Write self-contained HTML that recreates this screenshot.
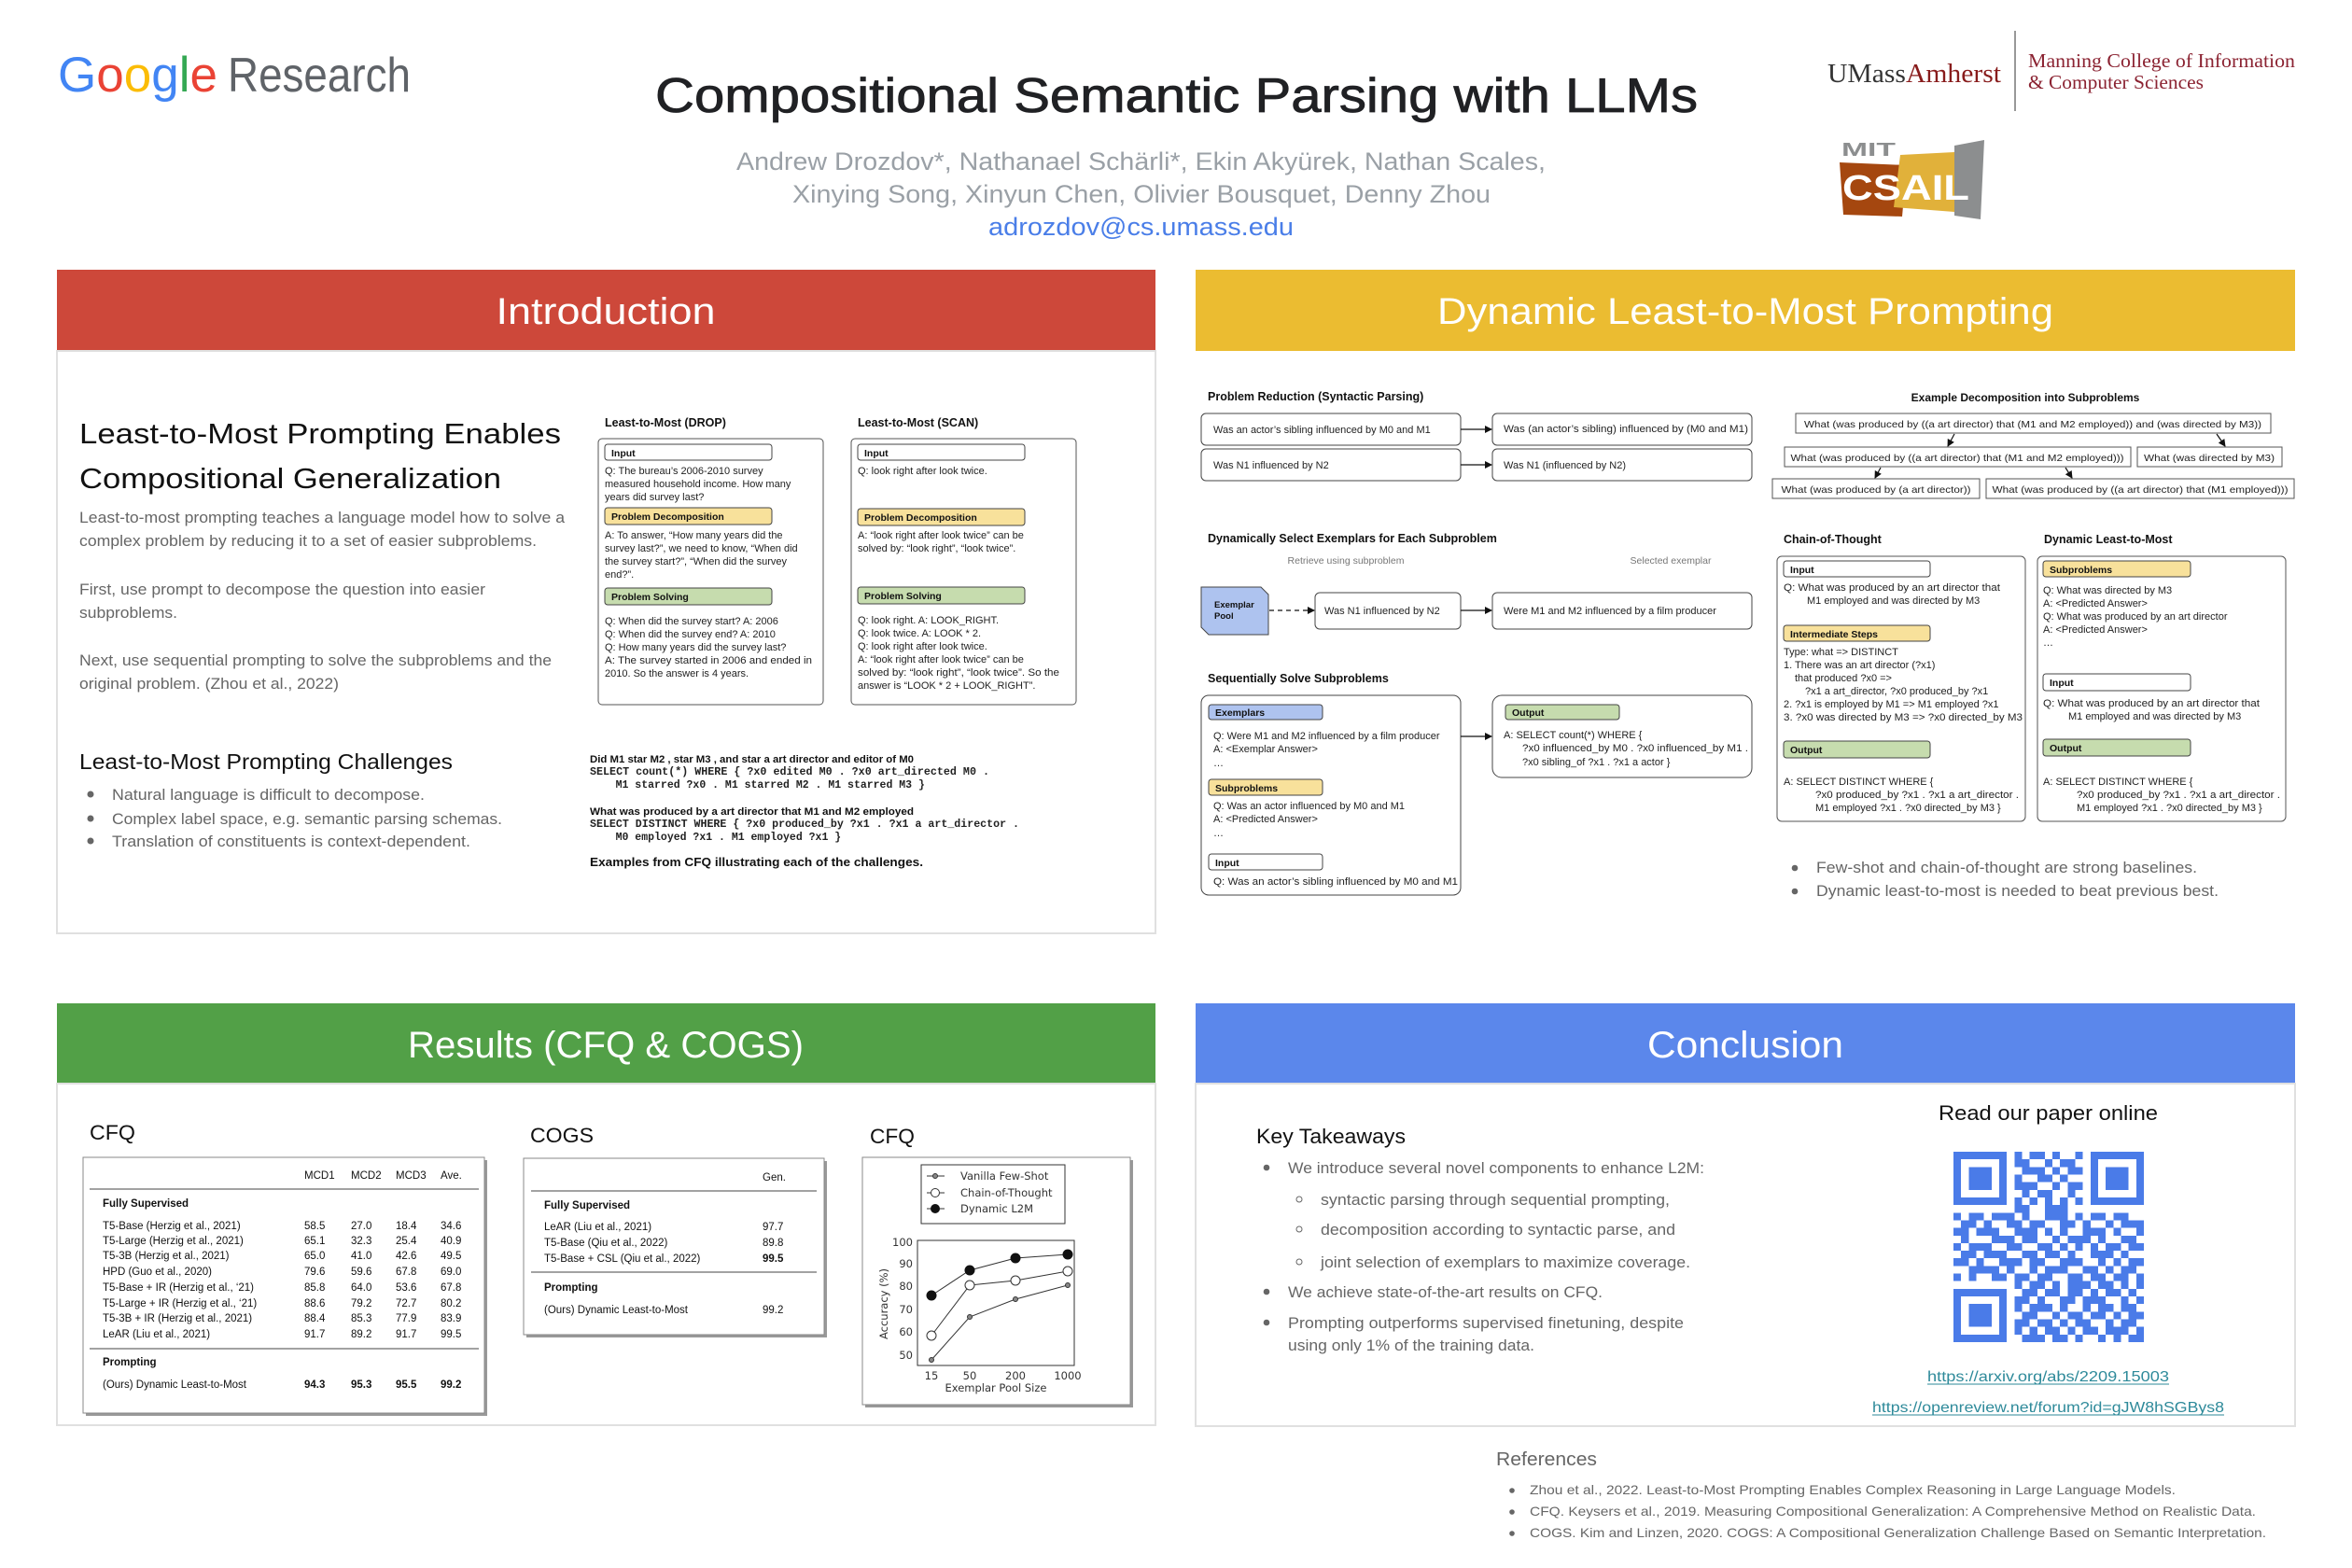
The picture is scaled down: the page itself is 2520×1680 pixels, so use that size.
<!DOCTYPE html>
<html><head><meta charset="utf-8"><style>
html,body{margin:0;padding:0;background:#fff;}
svg{display:block;}
text{font-family:"Liberation Sans",Arial,sans-serif;}
.m{font-family:"Liberation Mono",monospace;font-weight:bold;font-size:11.5px;fill:#222;white-space:pre;}
.s{font-size:11px;fill:#222;}
.b{font-weight:bold;}
.g{fill:#666;}
</style></head><body>
<svg width="2520" height="1680" viewBox="0 0 2520 1680" xmlns="http://www.w3.org/2000/svg">
<defs>
<marker id="ar" markerWidth="8" markerHeight="8" refX="7" refY="4" orient="auto" markerUnits="userSpaceOnUse"><path d="M0,0L8,4L0,8z" fill="#111"/></marker>
</defs>
<rect width="2520" height="1680" fill="#fff"/>

<!-- HEADER -->
<text x="62" y="98" font-size="53"><tspan fill="#4285F4">G</tspan><tspan fill="#EA4335">o</tspan><tspan fill="#FBBC05">o</tspan><tspan fill="#4285F4">g</tspan><tspan fill="#34A853">l</tspan><tspan fill="#EA4335">e</tspan></text>
<text x="244" y="98" font-size="52" fill="#5f6368" textLength="196" lengthAdjust="spacingAndGlyphs">Research</text>

<text x="702" y="120" font-size="52" fill="#202124" stroke="#202124" stroke-width="0.8" textLength="1117" lengthAdjust="spacingAndGlyphs">Compositional Semantic Parsing with LLMs</text>
<text x="789" y="182" font-size="27" fill="#9aa0a6" textLength="867" lengthAdjust="spacingAndGlyphs">Andrew Drozdov*, Nathanael Schärli*, Ekin Akyürek, Nathan Scales,</text>
<text x="849" y="217" font-size="27" fill="#9aa0a6" textLength="748" lengthAdjust="spacingAndGlyphs">Xinying Song, Xinyun Chen, Olivier Bousquet, Denny Zhou</text>
<text x="1059" y="252" font-size="27" fill="#4a7ee8" textLength="327" lengthAdjust="spacingAndGlyphs">adrozdov@cs.umass.edu</text>

<text x="1958" y="88" font-size="29" font-family="Liberation Serif,serif" style="font-family:'Liberation Serif',serif" textLength="186" lengthAdjust="spacingAndGlyphs"><tspan fill="#333">UMass</tspan><tspan fill="#881c1c">Amherst</tspan></text>
<line x1="2159" y1="33" x2="2159" y2="119" stroke="#777" stroke-width="1.5"/>
<text x="2173" y="72" font-size="21" fill="#8b2332" style="font-family:'Liberation Serif',serif" textLength="286" lengthAdjust="spacingAndGlyphs">Manning College of Information</text>
<text x="2173" y="95" font-size="21" fill="#8b2332" style="font-family:'Liberation Serif',serif" textLength="188" lengthAdjust="spacingAndGlyphs">&amp; Computer Sciences</text>

<!-- CSAIL logo -->
<polygon points="2094,156 2126,150 2122,235 2094,231" fill="#8c8e8f"/>
<polygon points="1971,174 2043,177 2038,232 1975,230" fill="#a5470f"/>
<polygon points="2036,166 2094,163 2094,227 2029,222" fill="#e1b13a"/>
<text x="1973" y="167" font-size="20" font-weight="bold" fill="#8c8e8f" textLength="58" lengthAdjust="spacingAndGlyphs">MIT</text>
<text x="1974" y="214" font-size="38" font-weight="bold" fill="#fff" textLength="136" lengthAdjust="spacingAndGlyphs">CSAIL</text>

<!-- SECTION HEADERS -->
<rect x="61" y="289" width="1177" height="87" fill="#cd483a"/>
<text x="649" y="347" font-size="40" fill="#fff" text-anchor="middle" textLength="235" lengthAdjust="spacingAndGlyphs">Introduction</text>
<rect x="61" y="376" width="1177" height="624" fill="none" stroke="#e0e0e0" stroke-width="2"/>

<rect x="1281" y="289" width="1178" height="87" fill="#ebbc31"/>
<text x="1870" y="347" font-size="40" fill="#fff" text-anchor="middle" textLength="660" lengthAdjust="spacingAndGlyphs">Dynamic Least-to-Most Prompting</text>

<rect x="61" y="1075" width="1177" height="86" fill="#52a047"/>
<text x="649" y="1133" font-size="40" fill="#fff" text-anchor="middle" textLength="424" lengthAdjust="spacingAndGlyphs">Results (CFQ &amp; COGS)</text>
<rect x="61" y="1161" width="1177" height="366" fill="none" stroke="#e0e0e0" stroke-width="2"/>

<rect x="1281" y="1075" width="1178" height="86" fill="#5b87eb"/>
<text x="1870" y="1133" font-size="40" fill="#fff" text-anchor="middle" textLength="210" lengthAdjust="spacingAndGlyphs">Conclusion</text>
<rect x="1281" y="1161" width="1178" height="367" fill="none" stroke="#e0e0e0" stroke-width="2"/>

<!-- INTRO LEFT -->
<text x="85" y="475" font-size="31" fill="#111" textLength="516" lengthAdjust="spacingAndGlyphs">Least-to-Most Prompting Enables</text>
<text x="85" y="523" font-size="31" fill="#111" textLength="452" lengthAdjust="spacingAndGlyphs">Compositional Generalization</text>
<g font-size="17" fill="#666">
<text x="85" y="560" textLength="520" lengthAdjust="spacingAndGlyphs">Least-to-most prompting teaches a language model how to solve a</text>
<text x="85" y="585" textLength="490" lengthAdjust="spacingAndGlyphs">complex problem by reducing it to a set of easier subproblems.</text>
<text x="85" y="637" textLength="435" lengthAdjust="spacingAndGlyphs">First, use prompt to decompose the question into easier</text>
<text x="85" y="662" textLength="105" lengthAdjust="spacingAndGlyphs">subproblems.</text>
<text x="85" y="713" textLength="506" lengthAdjust="spacingAndGlyphs">Next, use sequential prompting to solve the subproblems and the</text>
<text x="85" y="738" textLength="278" lengthAdjust="spacingAndGlyphs">original problem. (Zhou et al., 2022)</text>
</g>
<text x="85" y="824" font-size="23" fill="#111" textLength="400" lengthAdjust="spacingAndGlyphs">Least-to-Most Prompting Challenges</text>
<g font-size="17" fill="#666">
<circle cx="97" cy="851" r="3.5"/><circle cx="97" cy="877" r="3.5"/><circle cx="97" cy="901" r="3.5"/>
<text x="120" y="857" textLength="335" lengthAdjust="spacingAndGlyphs">Natural language is difficult to decompose.</text>
<text x="120" y="883" textLength="418" lengthAdjust="spacingAndGlyphs">Complex label space, e.g. semantic parsing schemas.</text>
<text x="120" y="907" textLength="384" lengthAdjust="spacingAndGlyphs">Translation of constituents is context-dependent.</text>
</g>

<!-- INTRO DIAGRAMS -->
<text x="648" y="457" font-size="12.5" class="b" fill="#111">Least-to-Most (DROP)</text>
<text x="919" y="457" font-size="12.5" class="b" fill="#111">Least-to-Most (SCAN)</text>
<rect x="641" y="470" width="241" height="285" rx="4" fill="none" stroke="#555"/>
<rect x="912" y="470" width="241" height="285" rx="4" fill="none" stroke="#555"/>
<g stroke="#444" stroke-width="1">
<rect x="648" y="476" width="179" height="17" rx="3" fill="#fff"/>
<rect x="648" y="544" width="179" height="18" rx="3" fill="#f8e19b"/>
<rect x="648" y="630" width="179" height="18" rx="3" fill="#c6dcae"/>
<rect x="919" y="476" width="179" height="17" rx="3" fill="#fff"/>
<rect x="919" y="545" width="179" height="18" rx="3" fill="#f8e19b"/>
<rect x="919" y="629" width="179" height="18" rx="3" fill="#c6dcae"/>
</g>
<g font-size="10.5" class="b" fill="#111">
<text x="655" y="489">Input</text><text x="655" y="557">Problem Decomposition</text><text x="655" y="643">Problem Solving</text>
<text x="926" y="489">Input</text><text x="926" y="558">Problem Decomposition</text><text x="926" y="642">Problem Solving</text>
</g>
<g class="s">
<text x="648" y="508">Q: The bureau’s 2006-2010 survey</text>
<text x="648" y="522">measured household income. How many</text>
<text x="648" y="536">years did survey last?</text>
<text x="648" y="577">A: To answer, “How many years did the</text>
<text x="648" y="591">survey last?”, we need to know, “When did</text>
<text x="648" y="605">the survey start?”, “When did the survey</text>
<text x="648" y="619">end?”.</text>
<text x="648" y="669">Q: When did the survey start? A: 2006</text>
<text x="648" y="683">Q: When did the survey end? A: 2010</text>
<text x="648" y="697">Q: How many years did the survey last?</text>
<text x="648" y="711" textLength="222" lengthAdjust="spacingAndGlyphs">A: The survey started in 2006 and ended in</text>
<text x="648" y="725">2010. So the answer is 4 years.</text>
<text x="919" y="508">Q: look right after look twice.</text>
<text x="919" y="577">A: “look right after look twice” can be</text>
<text x="919" y="591">solved by: “look right”, “look twice”.</text>
<text x="919" y="668">Q: look right. A: LOOK_RIGHT.</text>
<text x="919" y="682">Q: look twice. A: LOOK * 2.</text>
<text x="919" y="696">Q: look right after look twice.</text>
<text x="919" y="710">A: “look right after look twice” can be</text>
<text x="919" y="724" textLength="216" lengthAdjust="spacingAndGlyphs">solved by: “look right”, “look twice”. So the</text>
<text x="919" y="738">answer is “LOOK * 2 + LOOK_RIGHT”.</text>
</g>
<text x="632" y="817" font-size="11" class="b" fill="#111" textLength="347" lengthAdjust="spacingAndGlyphs">Did M1 star M2 , star M3 , and star a art director and editor of M0</text>
<text x="632" y="830" class="m" textLength="428" lengthAdjust="spacingAndGlyphs">SELECT count(*) WHERE { ?x0 edited M0 . ?x0 art_directed M0 .</text>
<text x="632" y="844" class="m">    M1 starred ?x0 . M1 starred M2 . M1 starred M3 }</text>
<text x="632" y="873" font-size="11" class="b" fill="#111" textLength="347" lengthAdjust="spacingAndGlyphs">What was produced by a art director that M1 and M2 employed</text>
<text x="632" y="886" class="m" textLength="460" lengthAdjust="spacingAndGlyphs">SELECT DISTINCT WHERE { ?x0 produced_by ?x1 . ?x1 a art_director .</text>
<text x="632" y="900" class="m">    M0 employed ?x1 . M1 employed ?x1 }</text>
<text x="632" y="928" font-size="13" class="b" fill="#111" textLength="357" lengthAdjust="spacingAndGlyphs">Examples from CFQ illustrating each of the challenges.</text>

<!-- DYNAMIC SECTION LEFT -->
<g font-size="12.5" class="b" fill="#111">
<text x="1294" y="429">Problem Reduction (Syntactic Parsing)</text>
<text x="1294" y="581">Dynamically Select Exemplars for Each Subproblem</text>
<text x="1294" y="731">Sequentially Solve Subproblems</text>
</g>
<g fill="#fff" stroke="#444">
<rect x="1287" y="443" width="278" height="34" rx="5"/>
<rect x="1599" y="443" width="278" height="34" rx="5"/>
<rect x="1287" y="481" width="278" height="34" rx="5"/>
<rect x="1599" y="481" width="278" height="34" rx="5"/>
<rect x="1409" y="635" width="156" height="39" rx="5"/>
<rect x="1599" y="635" width="278" height="39" rx="5"/>
<rect x="1287" y="745" width="278" height="214" rx="8"/>
<rect x="1599" y="745" width="278" height="88" rx="10"/>
</g>
<polygon points="1287,629 1351,629 1359,637 1359,680 1295,680 1287,672" fill="#aec3ef" stroke="#444"/>
<text x="1301" y="651" font-size="9.5" class="b" fill="#111">Exemplar</text>
<text x="1301" y="663" font-size="9.5" class="b" fill="#111">Pool</text>
<g stroke="#111" stroke-width="1.2">
<line x1="1565" y1="460" x2="1598" y2="460" marker-end="url(#ar)"/>
<line x1="1565" y1="498" x2="1598" y2="498" marker-end="url(#ar)"/>
<line x1="1360" y1="654" x2="1408" y2="654" stroke-dasharray="5,4" marker-end="url(#ar)"/>
<line x1="1565" y1="654" x2="1598" y2="654" marker-end="url(#ar)"/>
<line x1="1565" y1="789" x2="1598" y2="789" marker-end="url(#ar)"/>
</g>
<g class="s">
<text x="1300" y="464">Was an actor’s sibling influenced by M0 and M1</text>
<text x="1611" y="463" textLength="262" lengthAdjust="spacingAndGlyphs">Was (an actor’s sibling) influenced by (M0 and M1)</text>
<text x="1300" y="502">Was N1 influenced by N2</text>
<text x="1611" y="502">Was N1 (influenced by N2)</text>
<text x="1419" y="658">Was N1 influenced by N2</text>
<text x="1611" y="658">Were M1 and M2 influenced by a film producer</text>
</g>
<text x="1442" y="604" font-size="10.5" fill="#777" text-anchor="middle">Retrieve using subproblem</text>
<text x="1790" y="604" font-size="10.5" fill="#777" text-anchor="middle">Selected exemplar</text>
<g stroke="#444">
<rect x="1295" y="755" width="122" height="16" rx="3" fill="#aec3ef"/>
<rect x="1295" y="835" width="122" height="17" rx="3" fill="#f8e19b"/>
<rect x="1295" y="915" width="122" height="17" rx="3" fill="#fff"/>
<rect x="1613" y="755" width="122" height="16" rx="3" fill="#c6dcae"/>
</g>
<g font-size="10.5" class="b" fill="#111">
<text x="1302" y="767">Exemplars</text><text x="1302" y="848">Subproblems</text><text x="1302" y="928">Input</text><text x="1620" y="767">Output</text>
</g>
<g class="s">
<text x="1300" y="792">Q: Were M1 and M2 influenced by a film producer</text>
<text x="1300" y="806">A: &lt;Exemplar Answer&gt;</text>
<text x="1300" y="821">…</text>
<text x="1300" y="867">Q: Was an actor influenced by M0 and M1</text>
<text x="1300" y="881">A: &lt;Predicted Answer&gt;</text>
<text x="1300" y="896">…</text>
<text x="1300" y="948" textLength="262" lengthAdjust="spacingAndGlyphs">Q: Was an actor’s sibling influenced by M0 and M1</text>
<text x="1611" y="791">A: SELECT count(*) WHERE {</text>
<text x="1631" y="805" textLength="242" lengthAdjust="spacingAndGlyphs">?x0 influenced_by M0 . ?x0 influenced_by M1 .</text>
<text x="1631" y="820">?x0 sibling_of ?x1 . ?x1 a actor }</text>
</g>

<!-- DYNAMIC SECTION RIGHT -->
<text x="2170" y="430" font-size="12" class="b" fill="#111" text-anchor="middle">Example Decomposition into Subproblems</text>
<g fill="#fff" stroke="#555">
<rect x="1924" y="443" width="509" height="21"/>
<rect x="1912" y="479" width="371" height="21"/>
<rect x="2290" y="479" width="155" height="21"/>
<rect x="1899" y="513" width="222" height="21"/>
<rect x="2128" y="513" width="330" height="21"/>
</g>
<g font-size="10.5" fill="#222" text-anchor="middle">
<text x="2178" y="458" textLength="490" lengthAdjust="spacingAndGlyphs">What (was produced by ((a art director) that (M1 and M2 employed)) and (was directed by M3))</text>
<text x="2097" y="494" textLength="357" lengthAdjust="spacingAndGlyphs">What (was produced by ((a art director) that (M1 and M2 employed)))</text>
<text x="2367" y="494" textLength="140" lengthAdjust="spacingAndGlyphs">What (was directed by M3)</text>
<text x="2010" y="528" textLength="203" lengthAdjust="spacingAndGlyphs">What (was produced by (a art director))</text>
<text x="2293" y="528" textLength="317" lengthAdjust="spacingAndGlyphs">What (was produced by ((a art director) that (M1 employed)))</text>
</g>
<g stroke="#111" stroke-width="1.2">
<line x1="2094" y1="465" x2="2087" y2="478" marker-end="url(#ar)"/>
<line x1="2375" y1="465" x2="2384" y2="478" marker-end="url(#ar)"/>
<line x1="2015" y1="501" x2="2009" y2="512" marker-end="url(#ar)"/>
<line x1="2213" y1="501" x2="2220" y2="512" marker-end="url(#ar)"/>
</g>
<text x="1911" y="582" font-size="12.5" class="b" fill="#111">Chain-of-Thought</text>
<text x="2190" y="582" font-size="12.5" class="b" fill="#111">Dynamic Least-to-Most</text>
<rect x="1904" y="596" width="266" height="284" rx="5" fill="none" stroke="#555"/>
<rect x="2183" y="596" width="266" height="284" rx="5" fill="none" stroke="#555"/>
<g stroke="#444">
<rect x="1911" y="601" width="157" height="17" rx="3" fill="#fff"/>
<rect x="1911" y="670" width="157" height="17" rx="3" fill="#f8e19b"/>
<rect x="1911" y="794" width="157" height="18" rx="3" fill="#c6dcae"/>
<rect x="2189" y="601" width="158" height="17" rx="3" fill="#f8e19b"/>
<rect x="2189" y="722" width="158" height="18" rx="3" fill="#fff"/>
<rect x="2189" y="792" width="158" height="18" rx="3" fill="#c6dcae"/>
</g>
<g font-size="10.5" class="b" fill="#111">
<text x="1918" y="614">Input</text><text x="1918" y="683">Intermediate Steps</text><text x="1918" y="807">Output</text>
<text x="2196" y="614">Subproblems</text><text x="2196" y="735">Input</text><text x="2196" y="805">Output</text>
</g>
<g class="s">
<text x="1911" y="633" textLength="232" lengthAdjust="spacingAndGlyphs">Q: What was produced by an art director that</text>
<text x="1936" y="647">M1 employed and was directed by M3</text>
<text x="1911" y="702">Type: what =&gt; DISTINCT</text>
<text x="1911" y="716">1. There was an art director (?x1)</text>
<text x="1923" y="730">that produced ?x0 =&gt;</text>
<text x="1934" y="744">?x1 a art_director, ?x0 produced_by ?x1</text>
<text x="1911" y="758">2. ?x1 is employed by M1 =&gt; M1 employed ?x1</text>
<text x="1911" y="772" textLength="256" lengthAdjust="spacingAndGlyphs">3. ?x0 was directed by M3 =&gt; ?x0 directed_by M3</text>
<text x="1911" y="841">A: SELECT DISTINCT WHERE {</text>
<text x="1945" y="855" textLength="218" lengthAdjust="spacingAndGlyphs">?x0 produced_by ?x1 . ?x1 a art_director .</text>
<text x="1945" y="869">M1 employed ?x1 . ?x0 directed_by M3 }</text>
<text x="2189" y="636">Q: What was directed by M3</text>
<text x="2189" y="650">A: &lt;Predicted Answer&gt;</text>
<text x="2189" y="664">Q: What was produced by an art director</text>
<text x="2189" y="678">A: &lt;Predicted Answer&gt;</text>
<text x="2189" y="692">…</text>
<text x="2189" y="757" textLength="232" lengthAdjust="spacingAndGlyphs">Q: What was produced by an art director that</text>
<text x="2216" y="771">M1 employed and was directed by M3</text>
<text x="2189" y="841">A: SELECT DISTINCT WHERE {</text>
<text x="2225" y="855" textLength="218" lengthAdjust="spacingAndGlyphs">?x0 produced_by ?x1 . ?x1 a art_director .</text>
<text x="2225" y="869">M1 employed ?x1 . ?x0 directed_by M3 }</text>
</g>
<g font-size="16.5" fill="#666">
<circle cx="1923" cy="930" r="3.3"/><circle cx="1923" cy="955" r="3.3"/>
<text x="1946" y="935" textLength="408" lengthAdjust="spacingAndGlyphs">Few-shot and chain-of-thought are strong baselines.</text>
<text x="1946" y="960" textLength="431" lengthAdjust="spacingAndGlyphs">Dynamic least-to-most is needed to beat previous best.</text>
</g>

<!-- RESULTS -->
<text x="96" y="1221" font-size="22" fill="#111" textLength="49" lengthAdjust="spacingAndGlyphs">CFQ</text>
<text x="568" y="1224" font-size="22" fill="#111" textLength="68" lengthAdjust="spacingAndGlyphs">COGS</text>
<text x="932" y="1225" font-size="22" fill="#111" textLength="48" lengthAdjust="spacingAndGlyphs">CFQ</text>

<rect x="92" y="1243" width="430" height="274" fill="#999"/>
<rect x="89" y="1240" width="430" height="274" fill="#fff" stroke="#888"/>
<rect x="564" y="1244" width="322" height="189" fill="#999"/>
<rect x="561" y="1241" width="322" height="189" fill="#fff" stroke="#888"/>
<rect x="927" y="1243" width="287" height="265" fill="#999"/>
<rect x="924" y="1240" width="287" height="265" fill="#fff" stroke="#888"/>

<g font-size="11.5" fill="#111">
<text x="326" y="1263">MCD1</text><text x="376" y="1263">MCD2</text><text x="424" y="1263">MCD3</text><text x="472" y="1263">Ave.</text>
<line x1="96" y1="1274" x2="513" y2="1274" stroke="#444"/>
<text x="110" y="1293" class="b">Fully Supervised</text>
<text x="110" y="1317">T5-Base (Herzig et al., 2021)</text><text x="326" y="1317">58.5</text><text x="376" y="1317">27.0</text><text x="424" y="1317">18.4</text><text x="472" y="1317">34.6</text>
<text x="110" y="1333">T5-Large (Herzig et al., 2021)</text><text x="326" y="1333">65.1</text><text x="376" y="1333">32.3</text><text x="424" y="1333">25.4</text><text x="472" y="1333">40.9</text>
<text x="110" y="1349">T5-3B (Herzig et al., 2021)</text><text x="326" y="1349">65.0</text><text x="376" y="1349">41.0</text><text x="424" y="1349">42.6</text><text x="472" y="1349">49.5</text>
<text x="110" y="1366">HPD (Guo et al., 2020)</text><text x="326" y="1366">79.6</text><text x="376" y="1366">59.6</text><text x="424" y="1366">67.8</text><text x="472" y="1366">69.0</text>
<text x="110" y="1383">T5-Base + IR (Herzig et al., ‘21)</text><text x="326" y="1383">85.8</text><text x="376" y="1383">64.0</text><text x="424" y="1383">53.6</text><text x="472" y="1383">67.8</text>
<text x="110" y="1400">T5-Large + IR (Herzig et al., ‘21)</text><text x="326" y="1400">88.6</text><text x="376" y="1400">79.2</text><text x="424" y="1400">72.7</text><text x="472" y="1400">80.2</text>
<text x="110" y="1416">T5-3B + IR (Herzig et al., 2021)</text><text x="326" y="1416">88.4</text><text x="376" y="1416">85.3</text><text x="424" y="1416">77.9</text><text x="472" y="1416">83.9</text>
<text x="110" y="1433">LeAR (Liu et al., 2021)</text><text x="326" y="1433">91.7</text><text x="376" y="1433">89.2</text><text x="424" y="1433">91.7</text><text x="472" y="1433">99.5</text>
<line x1="96" y1="1445" x2="513" y2="1445" stroke="#444"/>
<text x="110" y="1463" class="b">Prompting</text>
<text x="110" y="1487">(Ours) Dynamic Least-to-Most</text>
<g class="b"><text x="326" y="1487">94.3</text><text x="376" y="1487">95.3</text><text x="424" y="1487">95.5</text><text x="472" y="1487">99.2</text></g>

<text x="817" y="1265">Gen.</text>
<line x1="569" y1="1276" x2="875" y2="1276" stroke="#444"/>
<text x="583" y="1295" class="b">Fully Supervised</text>
<text x="583" y="1318">LeAR (Liu et al., 2021)</text><text x="817" y="1318">97.7</text>
<text x="583" y="1335">T5-Base (Qiu et al., 2022)</text><text x="817" y="1335">89.8</text>
<text x="583" y="1352">T5-Base + CSL (Qiu et al., 2022)</text><text x="817" y="1352" class="b">99.5</text>
<line x1="569" y1="1363" x2="875" y2="1363" stroke="#444"/>
<text x="583" y="1383" class="b">Prompting</text>
<text x="583" y="1407">(Ours) Dynamic Least-to-Most</text><text x="817" y="1407">99.2</text>
</g>

<!-- chart -->
<g style="font-family:'DejaVu Sans',sans-serif" font-size="11.5" fill="#333">
<rect x="987" y="1248" width="154" height="63" fill="#fff" stroke="#333"/>
<line x1="993" y1="1260" x2="1012" y2="1260" stroke="#333"/><circle cx="1002" cy="1260" r="2.5" fill="#888" stroke="#333"/>
<line x1="993" y1="1278" x2="1012" y2="1278" stroke="#333"/><circle cx="1002" cy="1278" r="4.5" fill="#fff" stroke="#333"/>
<line x1="993" y1="1295" x2="1012" y2="1295" stroke="#333"/><circle cx="1002" cy="1295" r="5" fill="#111"/>
<text x="1029" y="1264" style="font-family:'DejaVu Sans',sans-serif">Vanilla Few-Shot</text>
<text x="1029" y="1282" style="font-family:'DejaVu Sans',sans-serif">Chain-of-Thought</text>
<text x="1029" y="1299" style="font-family:'DejaVu Sans',sans-serif">Dynamic L2M</text>
<rect x="983" y="1329" width="168" height="134" fill="none" stroke="#333"/>
<g text-anchor="end">
<text x="978" y="1335" style="font-family:'DejaVu Sans',sans-serif">100</text>
<text x="978" y="1358" style="font-family:'DejaVu Sans',sans-serif">90</text>
<text x="978" y="1382" style="font-family:'DejaVu Sans',sans-serif">80</text>
<text x="978" y="1407" style="font-family:'DejaVu Sans',sans-serif">70</text>
<text x="978" y="1431" style="font-family:'DejaVu Sans',sans-serif">60</text>
<text x="978" y="1456" style="font-family:'DejaVu Sans',sans-serif">50</text>
</g>
<g text-anchor="middle">
<text x="998" y="1478" style="font-family:'DejaVu Sans',sans-serif">15</text>
<text x="1039" y="1478" style="font-family:'DejaVu Sans',sans-serif">50</text>
<text x="1088" y="1478" style="font-family:'DejaVu Sans',sans-serif">200</text>
<text x="1144" y="1478" style="font-family:'DejaVu Sans',sans-serif">1000</text>
<text x="1067" y="1491" style="font-family:'DejaVu Sans',sans-serif">Exemplar Pool Size</text>
<text transform="translate(951,1397) rotate(-90)" style="font-family:'DejaVu Sans',sans-serif">Accuracy (%)</text>
</g>
<polyline points="998,1457 1039,1411 1088,1392 1144,1377" fill="none" stroke="#333"/>
<polyline points="998,1431 1039,1377 1088,1372 1144,1362" fill="none" stroke="#333"/>
<polyline points="998,1388 1039,1361 1088,1348 1144,1344" fill="none" stroke="#333"/>
<g fill="#888" stroke="#333"><circle cx="998" cy="1457" r="2.5"/><circle cx="1039" cy="1411" r="2.5"/><circle cx="1088" cy="1392" r="2.5"/><circle cx="1144" cy="1377" r="2.5"/></g>
<g fill="#fff" stroke="#333"><circle cx="998" cy="1431" r="5"/><circle cx="1039" cy="1377" r="5"/><circle cx="1088" cy="1372" r="5"/><circle cx="1144" cy="1362" r="5"/></g>
<g fill="#111"><circle cx="998" cy="1388" r="5.5"/><circle cx="1039" cy="1361" r="5.5"/><circle cx="1088" cy="1348" r="5.5"/><circle cx="1144" cy="1344" r="5.5"/></g>
</g>

<!-- CONCLUSION -->
<text x="1346" y="1225" font-size="22" fill="#111" textLength="160" lengthAdjust="spacingAndGlyphs">Key Takeaways</text>
<g font-size="16.5" fill="#666">
<circle cx="1357" cy="1251" r="3.3"/><circle cx="1357" cy="1384" r="3.3"/><circle cx="1357" cy="1417" r="3.3"/>
<circle cx="1392" cy="1285" r="3" fill="none" stroke="#666"/><circle cx="1392" cy="1317" r="3" fill="none" stroke="#666"/><circle cx="1392" cy="1352" r="3" fill="none" stroke="#666"/>
<text x="1380" y="1257" textLength="446" lengthAdjust="spacingAndGlyphs">We introduce several novel components to enhance L2M:</text>
<text x="1415" y="1291" textLength="374" lengthAdjust="spacingAndGlyphs">syntactic parsing through sequential prompting,</text>
<text x="1415" y="1323" textLength="380" lengthAdjust="spacingAndGlyphs">decomposition according to syntactic parse, and</text>
<text x="1415" y="1358" textLength="396" lengthAdjust="spacingAndGlyphs">joint selection of exemplars to maximize coverage.</text>
<text x="1380" y="1390" textLength="337" lengthAdjust="spacingAndGlyphs">We achieve state-of-the-art results on CFQ.</text>
<text x="1380" y="1423" textLength="424" lengthAdjust="spacingAndGlyphs">Prompting outperforms supervised finetuning, despite</text>
<text x="1380" y="1447" textLength="264" lengthAdjust="spacingAndGlyphs">using only 1% of the training data.</text>
</g>
<text x="2077" y="1200" font-size="22" fill="#111" textLength="235" lengthAdjust="spacingAndGlyphs">Read our paper online</text>
<svg x="2093" y="1234" width="204" height="204" viewBox="0 0 25 25" shape-rendering="crispEdges">
<path fill="#4a7be8" d="M0 0h7v1h-7zM8 0h1v1h-1zM10 0h2v1h-2zM13 0h1v1h-1zM16 0h1v1h-1zM18 0h7v1h-7z
M0 1h1v1h-1zM6 1h1v1h-1zM8 1h2v1h-2zM12 1h1v1h-1zM14 1h2v1h-2zM18 1h1v1h-1zM24 1h1v1h-1z
M0 2h1v1h-1zM2 2h3v1h-3zM6 2h1v1h-1zM9 2h3v1h-3zM13 2h1v1h-1zM15 2h2v1h-2zM18 2h1v1h-1zM20 2h3v1h-3zM24 2h1v1h-1z
M0 3h1v1h-1zM2 3h3v1h-3zM6 3h1v1h-1zM8 3h1v1h-1zM11 3h2v1h-2zM14 3h1v1h-1zM18 3h1v1h-1zM20 3h3v1h-3zM24 3h1v1h-1z
M0 4h1v1h-1zM2 4h3v1h-3zM6 4h1v1h-1zM8 4h3v1h-3zM13 4h1v1h-1zM15 4h2v1h-2zM18 4h1v1h-1zM20 4h3v1h-3zM24 4h1v1h-1z
M0 5h1v1h-1zM6 5h1v1h-1zM9 5h1v1h-1zM11 5h2v1h-2zM15 5h1v1h-1zM18 5h1v1h-1zM24 5h1v1h-1z
M0 6h7v1h-7zM8 6h1v1h-1zM10 6h1v1h-1zM12 6h1v1h-1zM14 6h1v1h-1zM16 6h1v1h-1zM18 6h7v1h-7z
M8 7h2v1h-2zM12 7h3v1h-3z
M0 8h1v1h-1zM2 8h2v1h-2zM5 8h3v1h-3zM9 8h1v1h-1zM12 8h3v1h-3zM16 8h1v1h-1zM18 8h2v1h-2zM21 8h2v1h-2z
M1 9h2v1h-2zM4 9h1v1h-1zM7 9h2v1h-2zM10 9h2v1h-2zM14 9h2v1h-2zM17 9h1v1h-1zM20 9h1v1h-1zM22 9h3v1h-3z
M0 10h2v1h-2zM3 10h3v1h-3zM8 10h3v1h-3zM12 10h1v1h-1zM14 10h1v1h-1zM17 10h3v1h-3zM21 10h1v1h-1zM24 10h1v1h-1z
M1 11h1v1h-1zM5 11h3v1h-3zM9 11h2v1h-2zM13 11h1v1h-1zM15 11h3v1h-3zM19 11h1v1h-1zM22 11h2v1h-2z
M0 12h1v1h-1zM2 12h3v1h-3zM7 12h2v1h-2zM11 12h2v1h-2zM14 12h1v1h-1zM16 12h1v1h-1zM18 12h1v1h-1zM20 12h2v1h-2zM23 12h2v1h-2z
M1 13h2v1h-2zM4 13h3v1h-3zM9 13h2v1h-2zM12 13h2v1h-2zM15 13h1v1h-1zM18 13h3v1h-3zM22 13h1v1h-1z
M0 14h2v1h-2zM3 14h1v1h-1zM6 14h3v1h-3zM10 14h2v1h-2zM14 14h3v1h-3zM19 14h1v1h-1zM21 14h1v1h-1zM23 14h2v1h-2z
M2 15h4v1h-4zM7 15h1v1h-1zM10 15h1v1h-1zM12 15h3v1h-3zM17 15h2v1h-2zM20 15h1v1h-1zM22 15h2v1h-2z
M0 16h1v1h-1zM2 16h1v1h-1zM5 16h2v1h-2zM8 16h2v1h-2zM11 16h2v1h-2zM15 16h2v1h-2zM18 16h2v1h-2zM21 16h2v1h-2zM24 16h1v1h-1z
M8 17h1v1h-1zM10 17h2v1h-2zM13 17h1v1h-1zM15 17h3v1h-3zM19 17h2v1h-2zM22 17h1v1h-1zM24 17h1v1h-1z
M0 18h7v1h-7zM9 18h2v1h-2zM12 18h2v1h-2zM15 18h2v1h-2zM18 18h1v1h-1zM20 18h2v1h-2zM23 18h1v1h-1z
M0 19h1v1h-1zM6 19h1v1h-1zM8 19h2v1h-2zM11 19h1v1h-1zM14 19h2v1h-2zM17 19h3v1h-3zM22 19h1v1h-1zM24 19h1v1h-1z
M0 20h1v1h-1zM2 20h3v1h-3zM6 20h1v1h-1zM8 20h1v1h-1zM10 20h3v1h-3zM14 20h1v1h-1zM17 20h1v1h-1zM19 20h2v1h-2zM22 20h2v1h-2z
M0 21h1v1h-1zM2 21h3v1h-3zM6 21h1v1h-1zM9 21h2v1h-2zM13 21h1v1h-1zM15 21h2v1h-2zM18 21h2v1h-2zM21 21h1v1h-1zM23 21h2v1h-2z
M0 22h1v1h-1zM2 22h3v1h-3zM6 22h1v1h-1zM8 22h2v1h-2zM11 22h2v1h-2zM14 22h1v1h-1zM16 22h2v1h-2zM20 22h1v1h-1zM22 22h2v1h-2z
M0 23h1v1h-1zM6 23h1v1h-1zM8 23h1v1h-1zM10 23h1v1h-1zM12 23h2v1h-2zM15 23h1v1h-1zM17 23h2v1h-2zM20 23h3v1h-3zM24 23h1v1h-1z
M0 24h7v1h-7zM9 24h3v1h-3zM13 24h2v1h-2zM16 24h1v1h-1zM19 24h1v1h-1zM21 24h1v1h-1zM23 24h2v1h-2z"/>
</svg>
<text x="2065" y="1480" font-size="16" fill="#2e8a9a" textLength="259" lengthAdjust="spacingAndGlyphs">https://arxiv.org/abs/2209.15003</text>
<line x1="2065" y1="1483" x2="2324" y2="1483" stroke="#2e8a9a"/>
<text x="2006" y="1513" font-size="16" fill="#2e8a9a" textLength="377" lengthAdjust="spacingAndGlyphs">https://openreview.net/forum?id=gJW8hSGBys8</text>
<line x1="2006" y1="1516" x2="2383" y2="1516" stroke="#2e8a9a"/>

<!-- REFERENCES -->
<text x="1603" y="1570" font-size="20" fill="#666" textLength="108" lengthAdjust="spacingAndGlyphs">References</text>
<g font-size="14" fill="#666">
<circle cx="1620" cy="1597" r="2.8"/><circle cx="1620" cy="1620" r="2.8"/><circle cx="1620" cy="1643" r="2.8"/>
<text x="1639" y="1601" textLength="692" lengthAdjust="spacingAndGlyphs">Zhou et al., 2022. Least-to-Most Prompting Enables Complex Reasoning in Large Language Models.</text>
<text x="1639" y="1624" textLength="778" lengthAdjust="spacingAndGlyphs">CFQ. Keysers et al., 2019. Measuring Compositional Generalization: A Comprehensive Method on Realistic Data.</text>
<text x="1639" y="1647" textLength="789" lengthAdjust="spacingAndGlyphs">COGS. Kim and Linzen, 2020. COGS: A Compositional Generalization Challenge Based on Semantic Interpretation.</text>
</g>
</svg>
</body></html>
